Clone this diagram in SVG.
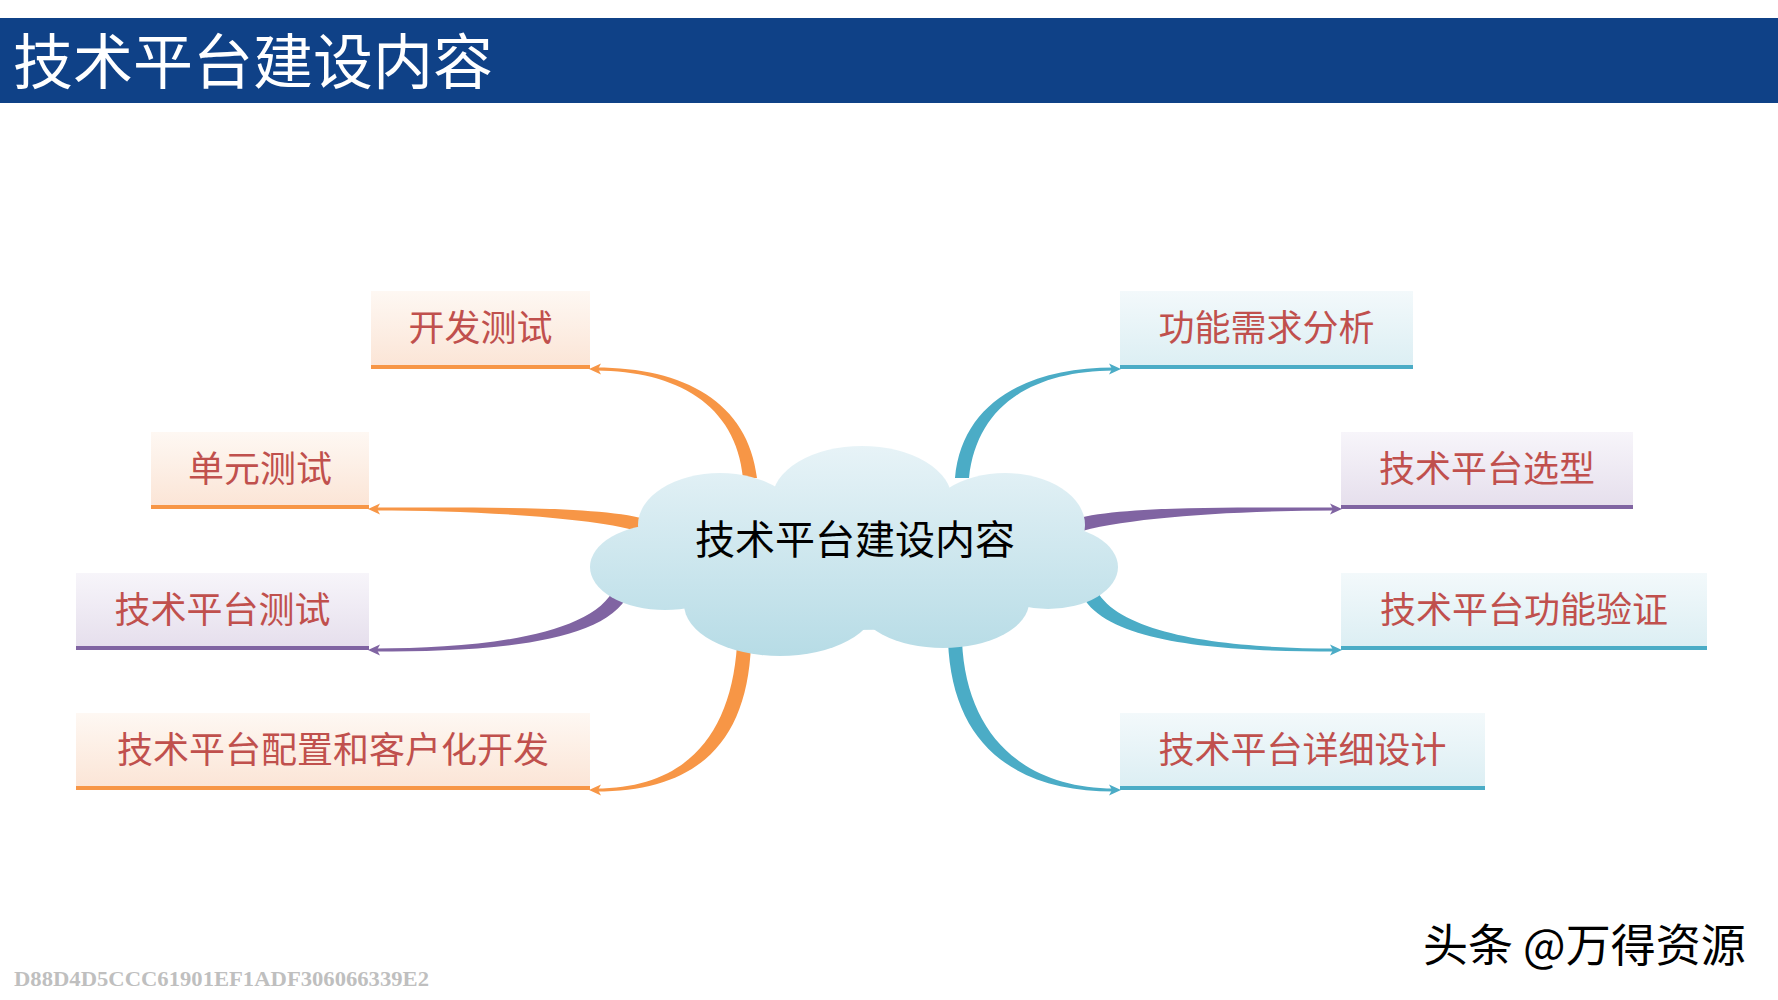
<svg xmlns="http://www.w3.org/2000/svg" width="1778" height="1000" viewBox="0 0 1778 1000">
<defs>
<linearGradient id="gOrange" x1="0" y1="0" x2="0" y2="1"><stop offset="0" stop-color="#FEF8F3"/><stop offset="1" stop-color="#FBE4D5"/></linearGradient>
<linearGradient id="gPurple" x1="0" y1="0" x2="0" y2="1"><stop offset="0" stop-color="#F7F5FA"/><stop offset="1" stop-color="#E5DEEC"/></linearGradient>
<linearGradient id="gBlue" x1="0" y1="0" x2="0" y2="1"><stop offset="0" stop-color="#F3F9FB"/><stop offset="1" stop-color="#DBEEF3"/></linearGradient>
<linearGradient id="gCloud" gradientUnits="userSpaceOnUse" x1="0" y1="446" x2="0" y2="655"><stop offset="0" stop-color="#E7F3F7"/><stop offset="1" stop-color="#B7DCE6"/></linearGradient>
</defs>
<style>
.title{font-family:"Noto Sans CJK SC","Noto Sans",sans-serif;font-size:60px;fill:#FFFFFF}
.lbl{font-family:"Noto Sans CJK SC","Noto Sans",sans-serif;font-size:36px;fill:#C0504D;text-anchor:middle}
.center{font-family:"Noto Sans CJK SC","Noto Sans",sans-serif;font-size:40px;fill:#000000;text-anchor:middle}
.o{fill:#F79646}.p{fill:#8064A2}.b{fill:#4BACC6}
.lo{stroke:#F79646;stroke-width:4}.lp{stroke:#8064A2;stroke-width:4}.lb{stroke:#4BACC6;stroke-width:4}
.cloud ellipse{fill:url(#gCloud)}
</style>
<rect x="0" y="0" width="1778" height="1000" fill="#FFFFFF"/>
<rect x="0" y="18" width="1778" height="85" fill="#0F4187"/>
<text class="title" x="13" y="84">技术平台建设内容</text>

<g id="connectors">
<path class="o" d="M 757 478 C 748 402, 684 367.5, 596 367.5 L 596 370.5 C 676 371, 736 404, 743 478 Z"/>
<polygon class="o" points="589,369 601,363.5 598,369 601,374.5"/>
<path class="o" d="M 645 519 C 598 506, 480 507.5, 375 507.5 L 375 510.5 C 480 510.5, 598 518, 645 533 Z"/>
<polygon class="o" points="368,509 380,503.5 377,509 380,514.5"/>
<path class="p" d="M 629 593 C 606 645, 482 651.5, 375 651.5 L 375 648.5 C 478 648.5, 594 636, 615 587 Z"/>
<polygon class="p" points="368,650 380,644.5 377,650 380,655.5"/>
<path class="o" d="M 751 645 C 747 745, 695 791.5, 596 791.5 L 596 788.5 C 685 788.5, 731 736, 737 645 Z"/>
<polygon class="o" points="589,790 601,784.5 598,790 601,795.5"/>
<path class="b" d="M 955 478 C 962 402, 1028 367.5, 1114 367.5 L 1114 370.5 C 1034 371, 977 404, 969 478 Z"/>
<polygon class="b" points="1121,369 1109,363.5 1112,369 1109,374.5"/>
<path class="p" d="M 1075 519 C 1122 506, 1230 507.5, 1335 507.5 L 1335 510.5 C 1230 510.5, 1122 518, 1075 533 Z"/>
<polygon class="p" points="1342,509 1330,503.5 1333,509 1330,514.5"/>
<path class="b" d="M 1081 593 C 1104 645, 1228 651.5, 1335 651.5 L 1335 648.5 C 1232 648.5, 1116 636, 1095 587 Z"/>
<polygon class="b" points="1342,650 1330,644.5 1333,650 1330,655.5"/>
<path class="b" d="M 948 641 C 952 745, 1015 791.5, 1114 791.5 L 1114 788.5 C 1025 788.5, 966 736, 962 641 Z"/>
<polygon class="b" points="1121,790 1109,784.5 1112,790 1109,795.5"/>
</g>

<g id="center-node" class="cloud">
<ellipse cx="855" cy="560" rx="200" ry="70"/>
<ellipse cx="862" cy="500" rx="90" ry="54"/>
<ellipse cx="720" cy="525" rx="82" ry="52"/>
<ellipse cx="1005" cy="525" rx="80" ry="52"/>
<ellipse cx="665" cy="567" rx="75" ry="43"/>
<ellipse cx="1048" cy="567" rx="70" ry="42"/>
<ellipse cx="780" cy="604" rx="96" ry="52"/>
<ellipse cx="943" cy="602" rx="86" ry="46"/>
<text class="center" x="855" y="554">技术平台建设内容</text>
</g>

<g id="node-kaifaceshi">
<rect x="371" y="291" width="219" height="78" fill="url(#gOrange)"/>
<line class="lo" x1="371" y1="367" x2="590" y2="367"/>
<text class="lbl" x="480.5" y="341">开发测试</text>
</g>
<g id="node-danyuanceshi">
<rect x="151" y="432" width="218" height="77" fill="url(#gOrange)"/>
<line class="lo" x1="151" y1="507" x2="369" y2="507"/>
<text class="lbl" x="260" y="482">单元测试</text>
</g>
<g id="node-pingtaiceshi">
<rect x="76" y="573" width="293" height="77" fill="url(#gPurple)"/>
<line class="lp" x1="76" y1="648" x2="369" y2="648"/>
<text class="lbl" x="222.5" y="623">技术平台测试</text>
</g>
<g id="node-peizhi">
<rect x="76" y="713" width="514" height="77" fill="url(#gOrange)"/>
<line class="lo" x1="76" y1="788" x2="590" y2="788"/>
<text class="lbl" x="333" y="763">技术平台配置和客户化开发</text>
</g>
<g id="node-xuqiu">
<rect x="1120" y="291" width="293" height="78" fill="url(#gBlue)"/>
<line class="lb" x1="1120" y1="367" x2="1413" y2="367"/>
<text class="lbl" x="1266.5" y="341">功能需求分析</text>
</g>
<g id="node-xuanxing">
<rect x="1341" y="432" width="292" height="77" fill="url(#gPurple)"/>
<line class="lp" x1="1341" y1="507" x2="1633" y2="507"/>
<text class="lbl" x="1487" y="482">技术平台选型</text>
</g>
<g id="node-yanzheng">
<rect x="1341" y="573" width="366" height="77" fill="url(#gBlue)"/>
<line class="lb" x1="1341" y1="648" x2="1707" y2="648"/>
<text class="lbl" x="1524" y="623">技术平台功能验证</text>
</g>
<g id="node-sheji">
<rect x="1120" y="713" width="365" height="77" fill="url(#gBlue)"/>
<line class="lb" x1="1120" y1="788" x2="1485" y2="788"/>
<text class="lbl" x="1302.5" y="763">技术平台详细设计</text>
</g>

<text x="14" y="986" font-family="Liberation Serif, serif" font-weight="bold" font-size="20" fill="#BFBFBF" textLength="415" lengthAdjust="spacingAndGlyphs">D88D4D5CCC61901EF1ADF306066339E2</text>
<text x="1423" y="962" font-family="Noto Sans CJK SC, Noto Sans, sans-serif" font-size="45" fill="#000000">头条 @万得资源</text>
</svg>
